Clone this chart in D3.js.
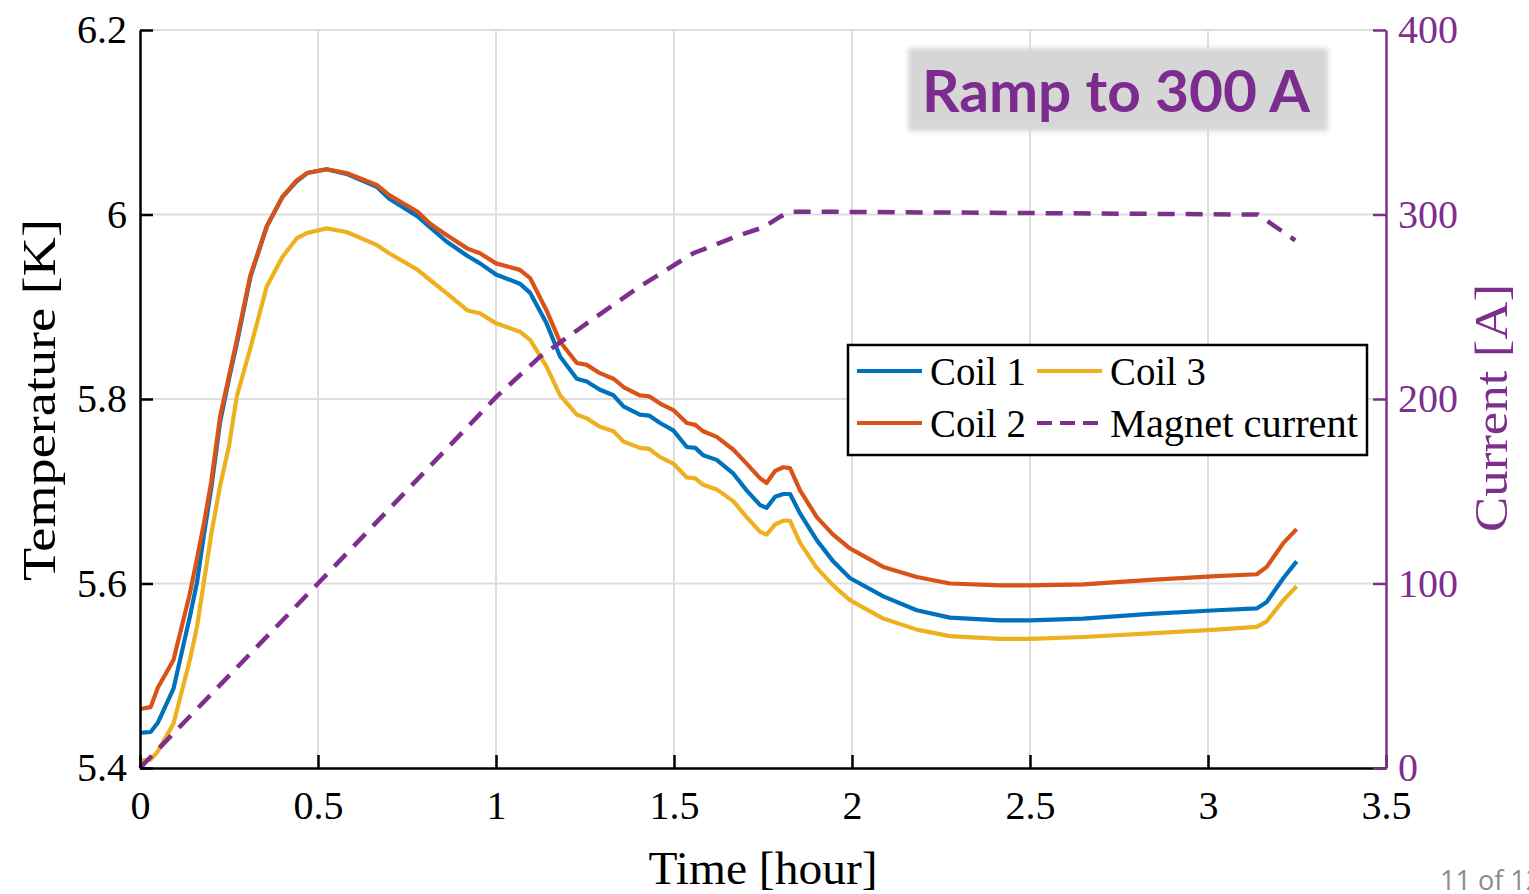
<!DOCTYPE html>
<html>
<head>
<meta charset="utf-8">
<script src="https://cdn.jsdelivr.net/npm/d3@7"></script>
<style>
  html, body { margin: 0; padding: 0; background: #fff; overflow: hidden; }
  svg { display: block; }
</style>
</head>
<body>
<svg id="chart" width="1529" height="894"></svg>
<script>
// ---------- DATA ----------
const time = [0, 0.03, 0.05, 0.094, 0.14, 0.16, 0.18, 0.2, 0.225, 0.25, 0.272, 0.31, 0.356, 0.40, 0.44, 0.47, 0.524, 0.58, 0.665, 0.70, 0.78, 0.815, 0.86, 0.92, 0.955, 1.0, 1.067, 1.096, 1.142, 1.18, 1.227, 1.255, 1.292, 1.33, 1.358, 1.404, 1.43, 1.461, 1.498, 1.536, 1.56, 1.582, 1.62, 1.667, 1.704, 1.742, 1.76, 1.784, 1.807, 1.826, 1.854, 1.901, 1.947, 1.994, 2.088, 2.182, 2.275, 2.416, 2.5, 2.65, 2.837, 3.024, 3.137, 3.165, 3.212, 3.249];

const coil1 = [5.438, 5.439, 5.449, 5.486, 5.564, 5.601, 5.654, 5.703, 5.775, 5.822, 5.860, 5.932, 5.987, 6.019, 6.036, 6.045, 6.049, 6.044, 6.030, 6.017, 5.998, 5.986, 5.971, 5.955, 5.947, 5.935, 5.925, 5.915, 5.882, 5.846, 5.822, 5.819, 5.810, 5.804, 5.792, 5.783, 5.782, 5.774, 5.766, 5.748, 5.747, 5.739, 5.734, 5.719, 5.701, 5.685, 5.682, 5.694, 5.697, 5.697, 5.676, 5.647, 5.624, 5.606, 5.586, 5.571, 5.563, 5.560, 5.560, 5.562, 5.567, 5.571, 5.573, 5.580, 5.606, 5.624];

const coil2 = [5.464, 5.466, 5.487, 5.517, 5.589, 5.627, 5.666, 5.710, 5.781, 5.825, 5.864, 5.934, 5.987, 6.019, 6.037, 6.045, 6.049, 6.045, 6.032, 6.021, 6.003, 5.990, 5.978, 5.963, 5.958, 5.947, 5.940, 5.931, 5.896, 5.862, 5.839, 5.837, 5.828, 5.822, 5.813, 5.804, 5.803, 5.795, 5.788, 5.774, 5.772, 5.765, 5.759, 5.745, 5.730, 5.714, 5.709, 5.722, 5.726, 5.725, 5.701, 5.672, 5.653, 5.638, 5.618, 5.607, 5.600, 5.598, 5.598, 5.599, 5.604, 5.608, 5.610, 5.618, 5.644, 5.659];

const coil3 = [5.408, 5.409, 5.418, 5.448, 5.517, 5.553, 5.603, 5.653, 5.706, 5.749, 5.803, 5.855, 5.922, 5.954, 5.974, 5.980, 5.985, 5.981, 5.967, 5.958, 5.940, 5.929, 5.915, 5.896, 5.893, 5.882, 5.873, 5.864, 5.835, 5.804, 5.783, 5.779, 5.770, 5.765, 5.754, 5.747, 5.746, 5.737, 5.730, 5.715, 5.714, 5.707, 5.702, 5.689, 5.672, 5.656, 5.653, 5.664, 5.668, 5.668, 5.644, 5.617, 5.598, 5.582, 5.562, 5.550, 5.543, 5.540, 5.540, 5.542, 5.546, 5.550, 5.553, 5.559, 5.582, 5.597];

const currentTime = [0, 0.5, 1.0, 1.124, 1.255, 1.404, 1.554, 1.59, 1.68, 1.75, 1.8, 1.83, 1.9, 2.5, 3.1, 3.14, 3.2, 3.245];
const current     = [0, 100, 201, 223, 241, 261, 279, 281.6, 288.5, 293, 299, 301.5, 301.5, 300.8, 300, 300, 292, 286];

const xTicks = [0, 0.5, 1, 1.5, 2, 2.5, 3, 3.5];
const xTickLabels = ["0", "0.5", "1", "1.5", "2", "2.5", "3", "3.5"];
const yTicks = [5.4, 5.6, 5.8, 6.0, 6.2];
const yTickLabels = ["5.4", "5.6", "5.8", "6", "6.2"];
const y2Ticks = [0, 100, 200, 300, 400];
const y2TickLabels = ["0", "100", "200", "300", "400"];

const seriesNames = ["Coil 1", "Coil 2", "Coil 3", "Magnet current"];
const seriesColors = ["#0072BD", "#D95319", "#EDB120", "#7E2F8E"];

// ---------- LAYOUT ----------
const svg = d3.select("#chart");
const L = 140, R = 1386, T = 30, B = 768;
const serif = "'Liberation Serif', 'Times New Roman', serif";
const purple = "#7E2F8E";

const x = d3.scaleLinear().domain([0, 3.5]).range([L, R]);
const y = d3.scaleLinear().domain([5.4, 6.2]).range([B, T]);
const y2 = d3.scaleLinear().domain([0, 400]).range([B, T]);

// grid
const grid = svg.append("g");
grid.selectAll("line.gx").data(xTicks.slice(1, -1)).join("line")
  .attr("x1", d => x(d)).attr("x2", d => x(d)).attr("y1", T).attr("y2", B)
  .attr("stroke", "#dedede").attr("stroke-width", 2);
grid.selectAll("line.gy").data(yTicks.slice(1)).join("line")
  .attr("x1", L).attr("x2", R).attr("y1", d => y(d)).attr("y2", d => y(d))
  .attr("stroke", "#dedede").attr("stroke-width", 2);

// title box
const defs = svg.append("defs");
const f = defs.append("filter").attr("id", "blur").attr("x", "-10%").attr("y", "-30%").attr("width", "120%").attr("height", "160%");
f.append("feGaussianBlur").attr("stdDeviation", 2.5);
svg.append("rect").attr("x", 908).attr("y", 48).attr("width", 420).attr("height", 83)
  .attr("fill", "#d6d6d6").attr("filter", "url(#blur)");
svg.append("text").attr("x", 922).attr("y", 112)
  .attr("font-family", "Lato, 'Open Sans', sans-serif").attr("font-weight", "bold")
  .attr("font-size", 58).attr("fill", "#7B2C8E")
  .attr("textLength", 388).attr("lengthAdjust", "spacingAndGlyphs")
  .text("Ramp to 300 A");

// lines
const tempLine = d3.line().x((d, i) => x(time[i])).y(d => y(d));
[coil1, coil2, coil3].forEach((arr, k) => {
  svg.append("path").datum(arr)
    .attr("d", tempLine)
    .attr("fill", "none").attr("stroke", seriesColors[k])
    .attr("stroke-width", 4.2).attr("stroke-linejoin", "round");
});
const curLine = d3.line().x((d, i) => x(currentTime[i])).y(d => y2(d));
svg.append("path").datum(current)
  .attr("d", curLine)
  .attr("fill", "none").attr("stroke", purple)
  .attr("stroke-width", 4.5).attr("stroke-dasharray", "17,11");

// axes
const axisB = d3.axisBottom(x).tickValues(xTicks).tickFormat((d, i) => xTickLabels[i]).tickSizeInner(-13).tickSizeOuter(0).tickPadding(34);
const axisL = d3.axisLeft(y).tickValues(yTicks).tickFormat((d, i) => yTickLabels[i]).tickSizeInner(-13).tickSizeOuter(0).tickPadding(26);
const axisR = d3.axisRight(y2).tickValues(y2Ticks).tickFormat((d, i) => y2TickLabels[i]).tickSizeInner(-13).tickSizeOuter(0).tickPadding(26);

const gB = svg.append("g").attr("transform", `translate(0,${B})`).call(axisB);
const gL = svg.append("g").attr("transform", `translate(${L},0)`).call(axisL);
const gR = svg.append("g").attr("transform", `translate(${R},0)`).call(axisR);

[gB, gL].forEach(g => {
  g.select(".domain").attr("stroke", "#000").attr("stroke-width", 2.5);
  g.selectAll(".tick line").attr("stroke", "#000").attr("stroke-width", 2.5);
  g.selectAll(".tick text").attr("font-family", serif).attr("font-size", 40).attr("fill", "#000");
});
gR.select(".domain").attr("stroke", purple).attr("stroke-width", 2.5);
gR.selectAll(".tick line").attr("stroke", purple).attr("stroke-width", 2.5);
gR.selectAll(".tick text").attr("font-family", serif).attr("font-size", 40).attr("fill", purple).attr("dx", -14);
gB.selectAll(".tick text").attr("dy", "0.42em");
gL.selectAll(".tick text").attr("dx", 13);

// axis labels
svg.append("text").attr("x", 763).attr("y", 884).attr("text-anchor", "middle")
  .attr("font-family", serif).attr("font-size", 46).attr("fill", "#000")
  .attr("textLength", 229).attr("lengthAdjust", "spacingAndGlyphs")
  .text("Time [hour]");
svg.append("text").attr("transform", "translate(55,400) rotate(-90)").attr("text-anchor", "middle")
  .attr("font-family", serif).attr("font-size", 46).attr("fill", "#000")
  .attr("textLength", 362).attr("lengthAdjust", "spacingAndGlyphs")
  .text("Temperature [K]");
svg.append("text").attr("transform", "translate(1507,408) rotate(-90)").attr("text-anchor", "middle")
  .attr("font-family", serif).attr("font-size", 46).attr("fill", purple)
  .attr("textLength", 248).attr("lengthAdjust", "spacingAndGlyphs")
  .text("Current [A]");

// legend
const lg = svg.append("g");
lg.append("rect").attr("x", 848).attr("y", 345).attr("width", 519).attr("height", 110)
  .attr("fill", "#fff").attr("stroke", "#000").attr("stroke-width", 2.5);
const legendItems = [
  { name: seriesNames[0], color: seriesColors[0], lx: 857, ty: 371, dash: null, w: 96 },
  { name: seriesNames[2], color: seriesColors[2], lx: 1037, ty: 371, dash: null, w: 96 },
  { name: seriesNames[1], color: seriesColors[1], lx: 857, ty: 423, dash: null, w: 96 },
  { name: seriesNames[3], color: seriesColors[3], lx: 1037, ty: 423, dash: "15,8", w: 248 }
];
legendItems.forEach(it => {
  lg.append("line").attr("x1", it.lx).attr("x2", it.lx + 65).attr("y1", it.ty).attr("y2", it.ty)
    .attr("stroke", it.color).attr("stroke-width", 4)
    .attr("stroke-dasharray", it.dash);
  lg.append("text").attr("x", it.lx + 73).attr("y", it.ty + 14)
    .attr("font-family", serif).attr("font-size", 40).attr("fill", "#000")
    .attr("textLength", it.w).attr("lengthAdjust", "spacingAndGlyphs")
    .text(it.name);
});

// page footer (cut by the page edge, as in the source slide)
svg.append("text").attr("x", 1440).attr("y", 890)
  .attr("font-family", "'Open Sans', sans-serif").attr("font-size", 27).attr("fill", "#8c8c8c")
  .text("11 of 12");
</script>
</body>
</html>
